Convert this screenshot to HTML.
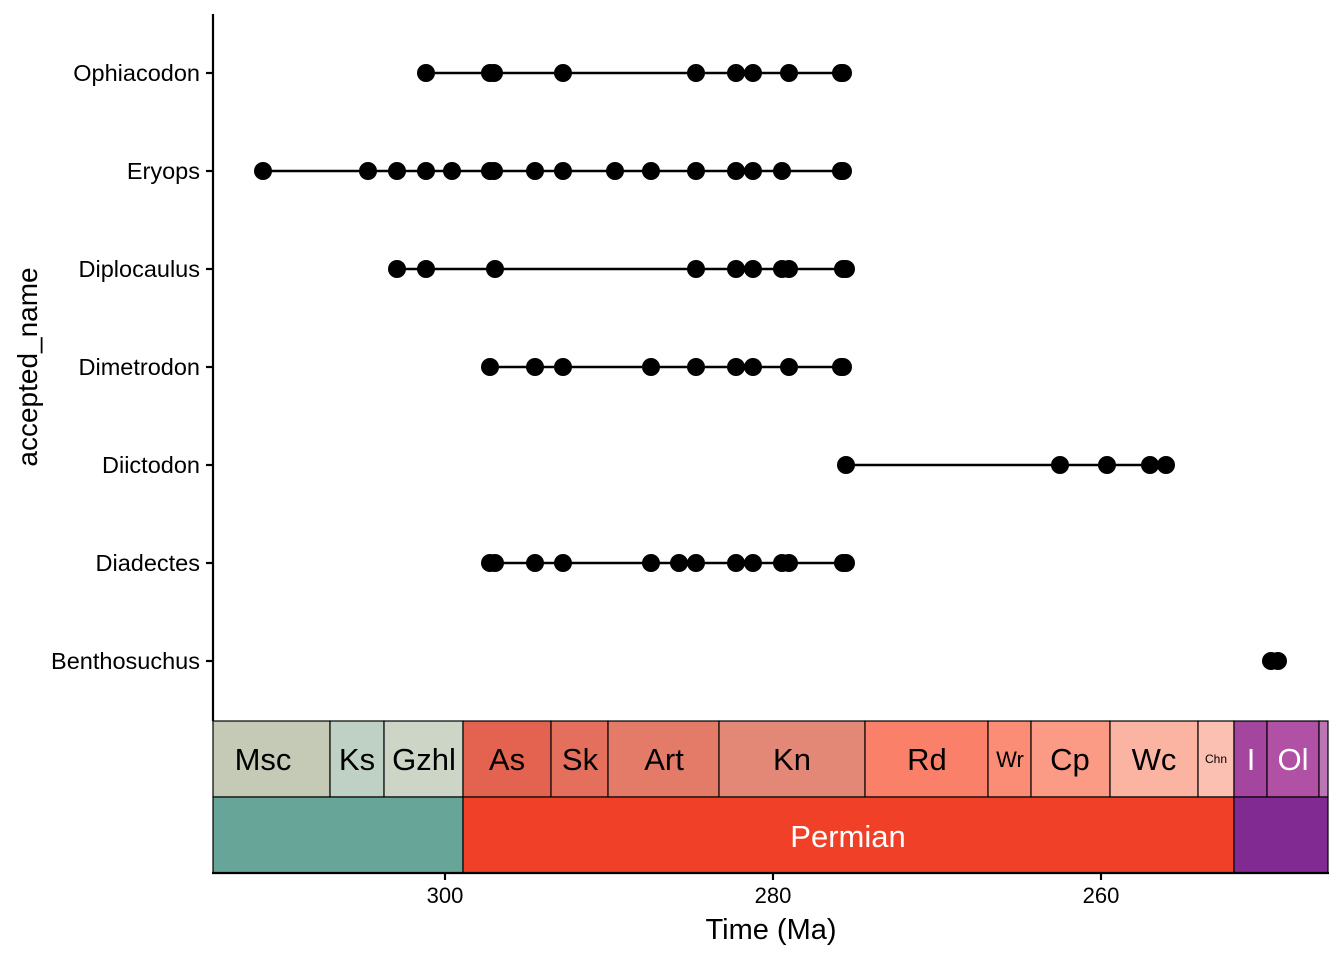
<!DOCTYPE html>
<html><head><style>body{margin:0;background:#fff}svg text{font-family:"Liberation Sans",Arial,sans-serif}</style></head>
<body>
<svg width="1344" height="960" xmlns="http://www.w3.org/2000/svg">
<g stroke="#000" stroke-width="1.2">
<rect x="213" y="721" width="117" height="76" fill="#C5CAB7"/>
<rect x="330" y="721" width="54" height="76" fill="#BFD1C5"/>
<rect x="384" y="721" width="79" height="76" fill="#CCD5C6"/>
<rect x="463" y="721" width="88" height="76" fill="#E36350"/>
<rect x="551" y="721" width="57" height="76" fill="#E36F5C"/>
<rect x="608" y="721" width="111" height="76" fill="#E37B68"/>
<rect x="719" y="721" width="146" height="76" fill="#E38776"/>
<rect x="865" y="721" width="123" height="76" fill="#FB8069"/>
<rect x="988" y="721" width="43" height="76" fill="#FB8D76"/>
<rect x="1031" y="721" width="79" height="76" fill="#FB9A85"/>
<rect x="1110" y="721" width="88" height="76" fill="#FCB4A2"/>
<rect x="1198" y="721" width="36" height="76" fill="#FCC0B2"/>
<rect x="1234" y="721" width="33" height="76" fill="#A4469F"/>
<rect x="1267" y="721" width="52" height="76" fill="#B051A5"/>
<rect x="1319" y="721" width="9" height="76" fill="#BC75B5"/>
<rect x="213" y="797" width="250" height="76" fill="#67A599"/>
<rect x="463" y="797" width="771" height="76" fill="#F04028"/>
<rect x="1234" y="797" width="94" height="76" fill="#812B92"/>
</g>
<g font-size="31" text-anchor="middle">
<text x="263" y="770">Msc</text><text x="357" y="770">Ks</text><text x="424" y="770">Gzhl</text>
<text x="507" y="770">As</text><text x="580" y="770">Sk</text><text x="664" y="770">Art</text>
<text x="792" y="770">Kn</text><text x="927" y="770">Rd</text><text x="1010" y="767" font-size="22">Wr</text>
<text x="1070" y="770">Cp</text><text x="1154" y="770">Wc</text><text x="1216" y="763" font-size="12">Chn</text>
<text x="1251" y="770" fill="#fff">I</text><text x="1293" y="770" fill="#fff">Ol</text>
<text x="848" y="847" fill="#fff">Permian</text>
</g>
<g stroke="#000" stroke-width="2.2">
<line x1="213" y1="14" x2="213" y2="721"/>
<line x1="212" y1="873" x2="1329" y2="873"/>
<line x1="445" y1="873" x2="445" y2="880"/><line x1="773" y1="873" x2="773" y2="880"/><line x1="1101" y1="873" x2="1101" y2="880"/>
<line x1="206" y1="73" x2="213" y2="73"/><line x1="206" y1="171" x2="213" y2="171"/><line x1="206" y1="269" x2="213" y2="269"/>
<line x1="206" y1="367" x2="213" y2="367"/><line x1="206" y1="465" x2="213" y2="465"/><line x1="206" y1="563" x2="213" y2="563"/><line x1="206" y1="661" x2="213" y2="661"/>
</g>
<g font-size="22" text-anchor="middle" fill="#000">
<text x="445" y="903">300</text><text x="773" y="903">280</text><text x="1101" y="903">260</text>
</g>
<text x="771" y="939" font-size="29" text-anchor="middle">Time (Ma)</text>
<g font-size="23.5" text-anchor="end">
<text x="200" y="81">Ophiacodon</text><text x="200" y="179">Eryops</text><text x="200" y="277">Diplocaulus</text>
<text x="200" y="375">Dimetrodon</text><text x="200" y="473">Diictodon</text><text x="200" y="571">Diadectes</text><text x="200" y="669">Benthosuchus</text>
</g>
<text transform="translate(37,367) rotate(-90)" font-size="28" text-anchor="middle">accepted_name</text>
<g stroke="#000" stroke-width="2.5">
<line x1="426" y1="73" x2="843" y2="73"/>
<line x1="263" y1="171" x2="843" y2="171"/>
<line x1="397" y1="269" x2="846" y2="269"/>
<line x1="490" y1="367" x2="843" y2="367"/>
<line x1="846" y1="465" x2="1166" y2="465"/>
<line x1="490" y1="563" x2="846" y2="563"/>
<line x1="1271" y1="661" x2="1278" y2="661"/>
</g>
<g fill="#000">
<circle cx="426" cy="73" r="9"/><circle cx="490" cy="73" r="9"/><circle cx="494" cy="73" r="9"/><circle cx="563" cy="73" r="9"/><circle cx="696" cy="73" r="9"/><circle cx="736" cy="73" r="9"/><circle cx="753" cy="73" r="9"/><circle cx="789" cy="73" r="9"/><circle cx="841" cy="73" r="9"/><circle cx="843" cy="73" r="9"/>
<circle cx="263" cy="171" r="9"/><circle cx="368" cy="171" r="9"/><circle cx="397" cy="171" r="9"/><circle cx="426" cy="171" r="9"/><circle cx="452" cy="171" r="9"/><circle cx="490" cy="171" r="9"/><circle cx="494" cy="171" r="9"/><circle cx="535" cy="171" r="9"/><circle cx="563" cy="171" r="9"/><circle cx="615" cy="171" r="9"/><circle cx="651" cy="171" r="9"/><circle cx="696" cy="171" r="9"/><circle cx="736" cy="171" r="9"/><circle cx="753" cy="171" r="9"/><circle cx="782" cy="171" r="9"/><circle cx="841" cy="171" r="9"/><circle cx="843" cy="171" r="9"/>
<circle cx="397" cy="269" r="9"/><circle cx="426" cy="269" r="9"/><circle cx="495" cy="269" r="9"/><circle cx="696" cy="269" r="9"/><circle cx="736" cy="269" r="9"/><circle cx="753" cy="269" r="9"/><circle cx="782" cy="269" r="9"/><circle cx="789" cy="269" r="9"/><circle cx="843" cy="269" r="9"/><circle cx="846" cy="269" r="9"/>
<circle cx="490" cy="367" r="9"/><circle cx="535" cy="367" r="9"/><circle cx="563" cy="367" r="9"/><circle cx="651" cy="367" r="9"/><circle cx="696" cy="367" r="9"/><circle cx="736" cy="367" r="9"/><circle cx="753" cy="367" r="9"/><circle cx="789" cy="367" r="9"/><circle cx="841" cy="367" r="9"/><circle cx="843" cy="367" r="9"/>
<circle cx="846" cy="465" r="9"/><circle cx="1060" cy="465" r="9"/><circle cx="1107" cy="465" r="9"/><circle cx="1150" cy="465" r="9"/><circle cx="1166" cy="465" r="9"/>
<circle cx="490" cy="563" r="9"/><circle cx="495" cy="563" r="9"/><circle cx="535" cy="563" r="9"/><circle cx="563" cy="563" r="9"/><circle cx="651" cy="563" r="9"/><circle cx="679" cy="563" r="9"/><circle cx="696" cy="563" r="9"/><circle cx="736" cy="563" r="9"/><circle cx="753" cy="563" r="9"/><circle cx="782" cy="563" r="9"/><circle cx="789" cy="563" r="9"/><circle cx="843" cy="563" r="9"/><circle cx="846" cy="563" r="9"/>
<circle cx="1271" cy="661" r="9"/><circle cx="1278" cy="661" r="9"/>
</g>
</svg>
</body></html>
